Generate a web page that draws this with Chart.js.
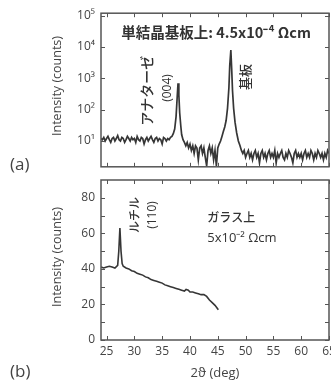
<!DOCTYPE html>
<html><head><meta charset="utf-8">
<script src="https://cdn.jsdelivr.net/npm/chart.js@4"></script>
<style>
body{margin:0;background:#fff;width:331px;height:382px;overflow:hidden;position:relative;font-family:"Open Sans","Noto Sans CJK JP",sans-serif;}
canvas{position:absolute;left:0;}
#c1{top:0;}
#c2{top:177px;}
.lab{position:absolute;font-size:17px;color:#444;font-family:"Open Sans",sans-serif;}
</style></head><body>
<canvas id="c1" width="331" height="180" style="width:331px;height:180px"></canvas>
<canvas id="c2" width="331" height="205" style="width:331px;height:205px"></canvas>
<div class="lab" style="left:10px;top:152px">(a)</div>
<div class="lab" style="left:10px;top:359px">(b)</div>
<script>
// ---- data ----
const xTicks = [25,30,35,40,45,50,55,60,65];
const yTicksA = [10,100,1000,10000,100000];
const yTickLabelsA = ["10¹","10²","10³","10⁴","10⁵"];
const yTicksB = [0,20,40,60,80];

// (a) single-crystal substrate: 2theta (deg) and intensity (counts)
const twoThetaA = [24.00,24.25,24.50,24.75,25.00,25.25,25.50,25.75,26.00,26.25,26.50,26.75,27.00,27.25,27.50,27.75,28.00,28.25,28.50,28.75,29.00,29.25,29.50,29.75,30.00,30.25,30.50,30.75,31.00,31.25,31.50,31.75,32.00,32.25,32.50,32.75,33.00,33.25,33.50,33.75,34.00,34.25,34.50,34.75,35.00,35.25,35.50,35.75,36.00,36.25,36.50,36.75,37.00,37.25,37.50,37.70,37.85,38.00,38.15,38.35,38.50,38.75,39.00,39.25,39.50,39.75,40.00,40.25,40.50,40.75,41.00,41.25,41.50,41.75,42.00,42.25,42.50,42.75,43.00,43.25,43.50,43.75,44.00,44.25,44.50,44.75,45.00,45.25,45.50,45.75,46.00,46.25,46.50,46.75,47.00,47.15,47.35,47.50,47.65,47.85,48.10,48.40,48.70,49.00,49.25,49.50,49.75,50.00,50.25,50.50,50.75,51.00,51.25,51.50,51.75,52.00,52.25,52.50,52.75,53.00,53.25,53.50,53.75,54.00,54.25,54.50,54.75,55.00,55.25,55.50,55.75,56.00,56.25,56.50,56.75,57.00,57.25,57.50,57.75,58.00,58.25,58.50,58.75,59.00,59.25,59.50,59.75,60.00,60.25,60.50,60.75,61.00,61.25,61.50,61.75,62.00,62.25,62.50,62.75,63.00,63.25,63.50,63.75,64.00,64.25,64.50,64.75,65.00];
const countsA = [12,11,13,10,12,14,11,9,12,13,10,12,15,11,10,13,12,9,11,14,12,10,13,11,12,9,14,11,10,13,12,8,11,13,10,12,14,11,9,12,13,10,12,11,8,13,12,10,12,11,13,14,17,24,60,250,700,300,80,30,16,11,9,7,9,6,8,5,7,4,7,6,2.5,6,7,4,6,3,1.6,5,7,4,6,2.5,5,1.6,6,8,10,14,20,28,45,110,500,2500,8000,2000,400,110,40,18,10,7,5,4,5,3,4,5,3,4,2.5,4,5,3,4,2,4,5,3,4,2.5,4,5,3,4,3,5,2,4,3,4,5,3,2.5,4,3,5,4,3,2,4,5,3,4,3,4,2.5,4,5,3,4,3,5,4,2.5,4,3,5,4,3,4,2.5,4,3,5,4];

// (b) on glass
const twoThetaB = [24.0,24.5,25.0,25.5,26.0,26.5,27.0,27.2,27.4,27.6,27.8,28.0,28.5,29.0,29.5,30.0,30.5,31.0,31.5,32.0,32.5,33.0,33.5,34.0,34.5,35.0,35.5,36.0,36.5,37.0,37.5,38.0,38.5,39.0,39.3,39.7,40.0,40.5,41.0,41.5,42.0,42.5,43.0,43.5,44.0,44.5,45.1];
const countsB = [41,40.5,41,41.5,41,40.5,42,50,63,50,43,41.5,40.5,40,39,38.5,37.5,37,36.5,35.5,35,34,33.5,33,32.5,32,31,30.5,30,29.5,29,28.5,28,27.5,28.5,28,27,27,26.5,26,25.5,25.5,24.5,22.5,21,19.5,17];

// ---- helpers ----
const INK = '#363636';
const TXT = '#444';
function ptsOf(xs, ys){ return xs.map((x,i)=>({x:x, y:ys[i]})); }

const framePlugin = {
  id:'frame',
  afterDraw(chart, args, opts){
    const {ctx, chartArea:a, scales} = chart;
    ctx.save();
    ctx.strokeStyle = '#555';
    ctx.lineWidth = 1.5;
    ctx.strokeRect(a.left, a.top, a.right-a.left, a.bottom-a.top);
    ctx.lineWidth = 1;
    const L = 4;
    ctx.beginPath();
    xTicks.forEach(v=>{
      const px = Math.round(scales.x.getPixelForValue(v))+0.5;
      ctx.moveTo(px, a.bottom); ctx.lineTo(px, a.bottom-L);
      ctx.moveTo(px, a.top); ctx.lineTo(px, a.top+L);
    });
    (opts.yMarks||[]).forEach(v=>{
      const py = Math.round(scales.y.getPixelForValue(v))+0.5;
      ctx.moveTo(a.left, py); ctx.lineTo(a.left+L, py);
      ctx.moveTo(a.right, py); ctx.lineTo(a.right-L, py);
    });
    ctx.stroke();
    // y axis title
    ctx.fillStyle = TXT;
    ctx.font = '12.5px "Open Sans", sans-serif';
    ctx.textAlign = 'center';
    ctx.textBaseline = 'middle';
    ctx.translate(opts.titleX, (a.top+a.bottom)/2 + (opts.titleDy||0));
    ctx.rotate(-Math.PI/2);
    ctx.fillText('Intensity (counts)', 0, 0);
    ctx.restore();
    // annotations
    (opts.notes||[]).forEach(n=>{
      ctx.save();
      ctx.fillStyle = n.color || '#333';
      ctx.font = n.font;
      ctx.textAlign = n.align || 'center';
      ctx.textBaseline = 'middle';
      ctx.translate(scales.x.getPixelForValue(n.x), scales.y.getPixelForValue(n.y));
      if (n.rot) ctx.rotate(n.rot);
      ctx.fillText(n.text, 0, 0);
      ctx.restore();
    });
    if (opts.xTitle){
      ctx.save();
      ctx.fillStyle = TXT;
      ctx.font = '13px "Open Sans", sans-serif';
      ctx.textAlign = 'center';
      ctx.textBaseline = 'middle';
      ctx.fillText(opts.xTitle, (a.left+a.right)/2, a.bottom + opts.xTitleDy);
      ctx.restore();
    }
  }
};

const CJK = '"Noto Sans CJK JP", sans-serif';

new Chart(document.getElementById('c1'), {
  type:'line',
  data:{datasets:[{data:ptsOf(twoThetaA,countsA), borderColor:INK, borderWidth:1.7, pointRadius:0, tension:0}]},
  options:{
    responsive:false, animation:false,
    layout:{padding:{top:13,right:2,left:0,bottom:0}},
    plugins:{legend:{display:false}, tooltip:{enabled:false},
      frame:{
        titleX:57, titleDy:-4, yMarks:yTicksA,
        notes:[
          {text:'単結晶基板上: 4.5x10⁻⁴ Ωcm', x:44.7, y:30000, font:'bold 14.5px '+CJK},
          {text:'アナターゼ', x:32.3, y:400, rot:-Math.PI/2, font:'500 14px '+CJK},
          {text:'(004)', x:35.9, y:490, rot:-Math.PI/2, font:'12px "Open Sans", sans-serif'},
          {text:'基板', x:49.9, y:1100, rot:-Math.PI/2, font:'500 13px '+CJK}
        ]
      }},
    scales:{
      x:{type:'linear', min:24, max:65,
        afterBuildTicks:s=>{ s.ticks = xTicks.map(v=>({value:v})); },
        ticks:{display:false}, grid:{display:false, drawTicks:false}, border:{display:false},
        afterFit:s=>{ s.height = 5; }},
      y:{type:'logarithmic', min:1.5, max:120000,
        afterBuildTicks:s=>{ s.ticks = yTicksA.map(v=>({value:v})); },
        ticks:{padding:6, color:TXT, font:{size:12, family:'"Open Sans", sans-serif'},
          callback:(v)=>{ const i = yTicksA.indexOf(v); return i>=0 ? yTickLabelsA[i] : ''; }},
        grid:{display:false, drawTicks:false}, border:{display:false},
        afterFit:s=>{ s.width = 101; }}
    }
  },
  plugins:[framePlugin]
});

new Chart(document.getElementById('c2'), {
  type:'line',
  data:{datasets:[{data:ptsOf(twoThetaB,countsB), borderColor:INK, borderWidth:1.6, pointRadius:0, tension:0}]},
  options:{
    responsive:false, animation:false,
    layout:{padding:{top:3,right:2,left:0,bottom:0}},
    plugins:{legend:{display:false}, tooltip:{enabled:false},
      frame:{
        titleX:57, titleDy:-3, yMarks:[0,10,20,30,40,50,60,70,80],
        xTitle:'2ϑ (deg)', xTitleDy:33,
        notes:[
          {text:'ルチル', x:30.1, y:70.3, rot:-Math.PI/2, font:'500 12px '+CJK},
          {text:'(110)', x:33.35, y:70.3, rot:-Math.PI/2, font:'12px "Open Sans", sans-serif'},
          {text:'ガラス上', x:43.1, y:69.2, align:'left', font:'500 12px '+CJK},
          {text:'5x10⁻² Ωcm', x:43.1, y:57.4, align:'left', font:'13px "Open Sans", sans-serif'}
        ]
      }},
    scales:{
      x:{type:'linear', min:24, max:65,
        afterBuildTicks:s=>{ s.ticks = xTicks.map(v=>({value:v})); },
        ticks:{padding:4, color:TXT, maxRotation:0, autoSkip:false, font:{size:12, family:'"Open Sans", sans-serif'}},
        grid:{display:false, drawTicks:false}, border:{display:false},
        afterFit:s=>{ s.height = 42; s.paddingRight = 0; s.paddingLeft = 0; }},
      y:{type:'linear', min:0, max:90,
        afterBuildTicks:s=>{ s.ticks = yTicksB.map(v=>({value:v})); },
        ticks:{padding:6, color:TXT, font:{size:12, family:'"Open Sans", sans-serif'}},
        grid:{display:false, drawTicks:false}, border:{display:false},
        afterFit:s=>{ s.width = 101; s.paddingTop = 0; s.paddingBottom = 0; }}
    }
  },
  plugins:[framePlugin]
});
</script>
</body></html>
